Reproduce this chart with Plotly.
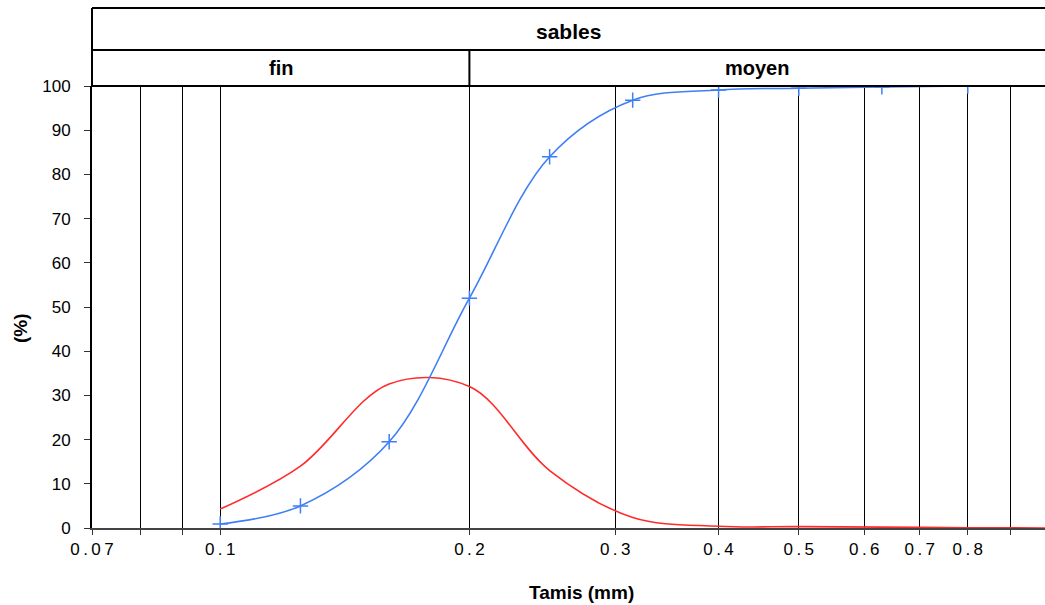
import math
import plotly.graph_objects as go

# --- data ---
sieves_mm = [0.1, 0.125, 0.16, 0.2, 0.25, 0.315, 0.4, 0.5, 0.63, 0.8]
cumulative_pct = [0.9, 5.0, 19.5, 52.0, 84.0, 96.8, 99.1, 99.5, 99.8, 100.0]
fraction_sieves_mm = [0.1, 0.125, 0.16, 0.2, 0.25, 0.315, 0.4, 0.5, 0.63, 0.8, 1.0]
fraction_pct = [4.3, 14.0, 32.6, 32.0, 13.0, 2.4, 0.4, 0.3, 0.2, 0.05, 0.0]

grid_vals = [0.07, 0.08, 0.09, 0.1, 0.2, 0.3, 0.4, 0.5, 0.6, 0.7, 0.8, 0.9]
grid_labels = ["0.07", "", "", "0.1", "0.2", "0.3", "0.4", "0.5", "0.6", "0.7", "0.8", ""]
y_ticks = list(range(0, 101, 10))

header_top = "sables"
header_classes = ["fin", "moyen"]
class_boundary_mm = 0.2

x_lo = math.log10(0.07)
x_hi = -0.0036

W, H = 1045, 605
ML, MR, MT, MB = 92, 0, 86, 77
plot_h = H - MT - MB

def px_to_paper_y(py):
    return 1 + (MT - py) / plot_h

def mm_to_paper_x(v):
    return (math.log10(v) - x_lo) / (x_hi - x_lo)

# letter-spaced tick labels (thin spaces between characters)
THIN = "\u2009"
grid_text = [THIN.join(list(t)) for t in grid_labels]

FONT = "Liberation Sans, Arial, sans-serif"

fig = go.Figure()
fig.add_trace(go.Scatter(
    x=fraction_sieves_mm, y=fraction_pct, mode="lines",
    line=dict(color="#FF2B2B", width=1.6, shape="spline", smoothing=1.0),
    showlegend=False, hoverinfo="x+y"))
fig.add_trace(go.Scatter(
    x=sieves_mm, y=cumulative_pct, mode="lines+markers",
    line=dict(color="#3F7FF5", width=1.6, shape="spline", smoothing=1.0),
    marker=dict(symbol="cross-thin", size=11, line=dict(color="#3F7FF5", width=1.5)),
    showlegend=False, hoverinfo="x+y"))

fig.update_layout(
    width=W, height=H,
    margin=dict(l=ML, r=MR, t=MT, b=MB),
    paper_bgcolor="white", plot_bgcolor="white",
    font=dict(family=FONT, color="black", size=17),
)
fig.update_xaxes(
    type="log", range=[x_lo, x_hi],
    tickmode="array", tickvals=grid_vals, ticktext=grid_text,
    showgrid=True, gridcolor="black", gridwidth=1,
    ticks="outside", ticklen=5, tickcolor="#333", tickwidth=1,
    showline=True, linecolor="#444", linewidth=2,
    tickfont=dict(size=17), zeroline=False,
)
fig.update_yaxes(
    range=[0, 100], tickmode="array", tickvals=y_ticks,
    showgrid=False, zeroline=False,
    ticks="outside", ticklen=6, tickcolor="#333", tickwidth=1,
    showline=True, linecolor="black", linewidth=2,
    tickfont=dict(size=17), ticklabelstandoff=10,
)

line = dict(color="black", width=2)
y_top = px_to_paper_y(8)
y_mid = px_to_paper_y(50)
xb = mm_to_paper_x(class_boundary_mm)
shapes = [
    dict(type="line", xref="paper", yref="paper", x0=0, x1=1.01, y0=y_top, y1=y_top, line=line),
    dict(type="line", xref="paper", yref="paper", x0=0, x1=1.01, y0=y_mid, y1=y_mid, line=line),
    dict(type="line", xref="paper", yref="paper", x0=0, x1=1.01, y0=1, y1=1, line=line),
    dict(type="line", xref="paper", yref="paper", x0=0, x1=0, y0=1, y1=y_top, line=line),
    dict(type="line", xref="paper", yref="paper", x0=xb, x1=xb, y0=1, y1=y_mid, line=line),
]
fig.update_layout(shapes=shapes)

ann = [
    dict(text="<b>" + header_top + "</b>", xref="paper", yref="paper", x=0.5, y=px_to_paper_y(31),
         showarrow=False, font=dict(family=FONT, size=21, color="black"), xanchor="center", yanchor="middle"),
    dict(text="<b>" + header_classes[0] + "</b>", xref="paper", yref="paper", x=xb / 2, y=(y_mid + 1) / 2,
         showarrow=False, font=dict(family=FONT, size=20, color="black"), xanchor="center", yanchor="middle"),
    dict(text="<b>" + header_classes[1] + "</b>", xref="paper", yref="paper", x=(xb + 1) / 2, y=(y_mid + 1) / 2,
         showarrow=False, font=dict(family=FONT, size=20, color="black"), xanchor="center", yanchor="middle"),
    dict(text="<b>Tamis (mm)</b>", xref="paper", yref="paper", x=(581 - ML) / (W - ML), y=px_to_paper_y(592),
         showarrow=False, font=dict(size=19, family=FONT, color="black"), xanchor="center", yanchor="middle"),
    dict(text="<b>(%)</b>", xref="paper", yref="paper", x=(20 - ML) / (W - ML), y=px_to_paper_y(328),
         showarrow=False, textangle=-90, font=dict(size=19, family=FONT, color="black"),
         xanchor="center", yanchor="middle"),
]
fig.update_layout(annotations=ann)

fig.write_html("out.html")
